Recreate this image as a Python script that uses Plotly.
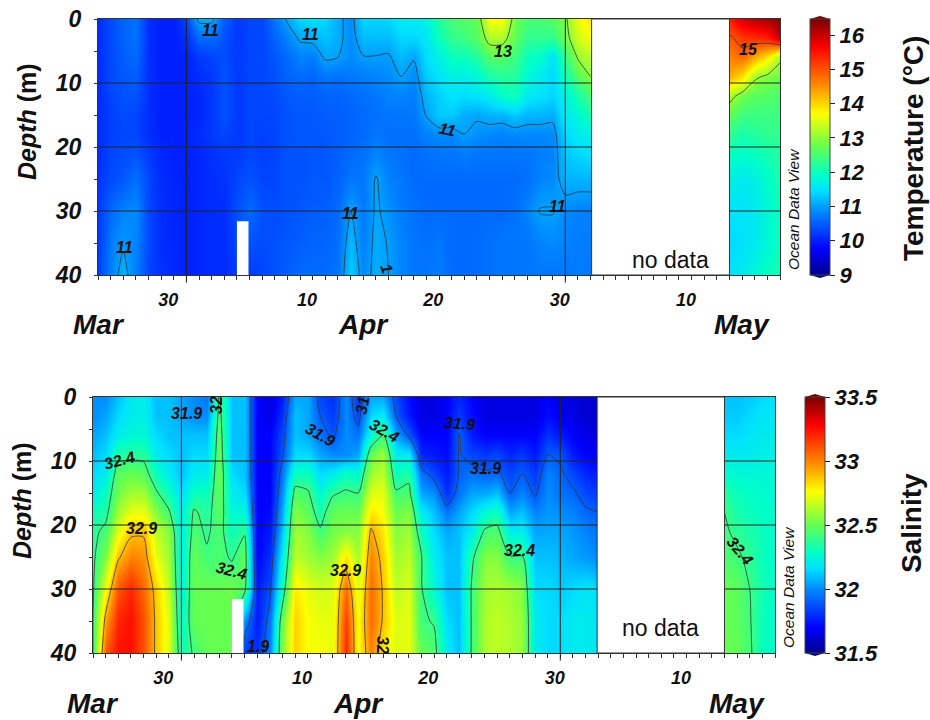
import numpy as np
import pandas as pd
import plotly.graph_objects as go

DEPTHS = [0, 3, 6, 9, 12, 15, 18, 21, 25, 30, 35, 40]

# Temperature profiles, one list per day, top to bottom
t00 = [10.1,10.1,10.1,10.1,10.1,10.1,10.1,10.1,10.15,10.2,10.2,10.25]
t01 = [10.35,10.35,10.35,10.35,10.3,10.25,10.25,10.3,10.35,10.6,10.75,10.8]
t02 = [10.55,10.55,10.5,10.45,10.4,10.35,10.3,10.35,10.45,10.8,10.95,11.15]
t03 = [10.65,10.65,10.6,10.5,10.4,10.3,10.3,10.4,10.65,10.85,10.8,10.75]
t04 = [10.1,10.1,10.1,10.1,10.1,10.1,10.1,10.2,10.3,10.3,10.3,10.3]
t05 = [10.0,10.0,10.0,10.0,10.0,10.0,10.0,10.05,10.1,10.1,10.1,10.15]
t06 = [10.0,10.0,10.0,10.0,10.0,10.0,10.0,10.0,10.05,10.05,10.05,10.05]
t07 = [10.3,10.1,10.0,10.0,10.0,10.0,10.0,10.0,10.0,10.0,10.0,10.0]
t08 = [11.1,10.6,10.2,10.1,10.05,10.05,10.1,10.05,10.05,10.05,10.05,10.05]
t09 = [11.1,10.6,10.3,10.2,10.2,10.2,10.2,10.15,10.1,10.1,10.1,10.1]
t10 = [10.5,10.4,10.35,10.4,10.4,10.4,10.3,10.2,10.15,10.1,10.1,10.1]
t11 = [10.2,10.2,10.2,10.2,10.2,10.2,10.2,10.2,10.3,10.4,10.3,10.2]
t12 = [10.3,10.3,10.3,10.3,10.3,10.3,10.3,10.3,10.4,10.6,10.4,10.2]
t13 = [10.3,10.3,10.3,10.3,10.3,10.3,10.25,10.25,10.3,10.4,10.35,10.3]
t14 = [10.7,10.55,10.45,10.4,10.35,10.3,10.3,10.3,10.3,10.35,10.4,10.4]
t15 = [11.05,10.8,10.6,10.55,10.45,10.4,10.4,10.4,10.4,10.4,10.45,10.5]
t16 = [11.4,11.05,10.8,10.6,10.5,10.45,10.45,10.4,10.4,10.45,10.5,10.6]
t17 = [11.5,11.1,10.75,10.55,10.5,10.45,10.45,10.45,10.45,10.5,10.55,10.6]
t18 = [11.4,11.25,11.05,10.7,10.55,10.5,10.45,10.45,10.45,10.5,10.55,10.6]
t19 = [11.1,11.1,11.0,10.65,10.55,10.5,10.5,10.5,10.55,10.6,10.65,10.7]
t20 = [10.85,10.85,10.85,10.7,10.6,10.55,10.55,10.6,10.7,11.02,11.2,11.35]
t21 = [11.4,11.2,10.98,10.75,10.65,10.6,10.6,10.65,10.7,10.72,10.75,10.85]
t22 = [11.35,11.2,10.98,10.8,10.7,10.65,10.7,10.8,11.03,11.05,11.1,11.1]
t23 = [11.4,11.2,10.95,10.85,10.8,10.7,10.65,10.7,10.8,10.9,10.98,11.0]
t24 = [11.6,11.4,11.2,11.0,10.8,10.7,10.65,10.65,10.7,10.75,10.8,10.8]
t25 = [11.6,11.4,11.03,10.85,10.75,10.7,10.65,10.6,10.6,10.65,10.7,10.7]
t26 = [11.7,11.55,11.45,11.3,11.15,11.02,10.8,10.65,10.6,10.6,10.65,10.7]
t27 = [12.2,12.0,11.7,11.5,11.35,11.3,10.85,10.7,10.6,10.6,10.7,10.75]
t28 = [12.5,12.3,12.0,11.7,11.5,11.3,10.85,10.7,10.6,10.6,10.6,10.6]
t29 = [12.6,12.4,12.0,11.65,11.45,11.1,11.0,10.75,10.6,10.6,10.6,10.6]
t30 = [12.7,12.6,12.2,11.8,11.5,11.05,10.9,10.7,10.6,10.6,10.6,10.6]
t31 = [13.7,13.2,12.6,12.1,11.6,11.15,10.85,10.7,10.6,10.6,10.65,10.65]
t32 = [13.7,13.2,12.6,12.2,11.9,11.15,10.8,10.7,10.6,10.6,10.7,10.7]
t33 = [12.8,12.7,12.4,12.2,12.0,11.3,10.85,10.7,10.6,10.65,10.7,10.7]
t34 = [12.5,12.3,12.0,11.8,11.6,11.15,10.85,10.7,10.65,10.8,10.7,10.7]
t35 = [12.5,12.3,11.9,11.6,11.5,11.15,10.85,10.75,10.8,11.02,10.8,10.7]
t36 = [12.6,12.3,11.5,11.4,11.4,11.1,10.85,10.8,10.85,11.02,10.85,10.7]
t37 = [12.9,12.8,12.3,12.0,11.7,11.6,11.4,11.3,11.15,10.85,10.8,10.7]
t38 = [13.6,13.4,13.05,12.6,12.1,11.8,11.6,11.4,11.15,10.78,10.75,10.75]
t39 = [13.9,13.7,13.3,13.0,12.5,12.1,11.7,11.5,11.15,10.78,10.75,10.7]
tm0 = [15.4,14.9,14.6,14.3,13.2,12.7,12.3,12.0,11.7,11.5,11.4,11.5]
tm1 = [15.9,15.2,14.8,13.9,12.8,12.4,12.1,11.9,11.6,11.5,11.5,11.6]
tm2 = [16.1,15.3,14.3,13.1,12.6,12.4,12.2,12.0,11.7,11.6,11.6,11.8]
tm3 = [16.2,15.4,13.9,12.9,12.6,12.4,12.3,12.1,11.9,11.8,11.8,12.0]
tm4 = [16.4,16.0,13.1,12.75,12.5,12.4,12.3,12.2,12.1,12.0,12.0,12.1]

# Salinity profiles
s00 = [32.0,32.0,32.05,32.1,32.15,32.2,32.3,32.36,32.37,32.38,32.4,32.4]
s01 = [32.0,32.05,32.1,32.15,32.2,32.3,32.35,32.44,32.55,32.75,32.95,33.1]
s02 = [32.1,32.15,32.2,32.35,32.48,32.52,32.6,32.7,32.88,33.1,33.2,33.25]
s03 = [32.2,32.2,32.25,32.36,32.5,32.6,32.72,32.87,33.0,33.2,33.25,33.25]
s04 = [32.2,32.22,32.25,32.36,32.47,32.6,32.72,32.88,32.97,33.05,33.1,33.1]
s05 = [32.1,32.1,32.15,32.2,32.3,32.42,32.55,32.65,32.72,32.85,32.87,32.87]
s06 = [32.1,32.1,32.1,32.15,32.2,32.3,32.42,32.55,32.6,32.65,32.7,32.7]
s07 = [32.05,32.05,32.1,32.1,32.1,32.15,32.2,32.2,32.2,32.22,32.25,32.3]
s08 = [32.0,32.0,32.1,32.15,32.2,32.3,32.42,32.45,32.5,32.5,32.5,32.42]
s09 = [31.95,32.0,32.1,32.15,32.2,32.3,32.35,32.38,32.42,32.5,32.5,32.5]
s10 = [32.42,32.45,32.48,32.5,32.52,32.5,32.48,32.45,32.45,32.5,32.5,32.5]
s11 = [32.1,32.1,32.1,32.1,32.15,32.2,32.25,32.3,32.38,32.52,32.5,32.5]
s12 = [32.1,32.1,32.1,32.1,32.1,32.15,32.25,32.38,32.5,32.45,32.0,31.8]
s13 = [31.7,31.7,31.7,31.7,31.7,31.7,31.7,31.7,31.7,31.75,31.75,31.8]
s14 = [31.65,31.65,31.7,31.7,31.7,31.7,31.72,31.75,31.8,31.87,31.95,32.0]
s15 = [31.75,31.8,31.85,31.88,31.95,32.0,32.05,32.1,32.2,32.3,32.5,32.55]
s16 = [32.05,32.1,32.1,32.15,32.3,32.45,32.55,32.6,32.65,32.8,32.85,32.85]
s17 = [32.05,32.05,32.05,32.15,32.3,32.42,32.48,32.55,32.6,32.72,32.75,32.75]
s18 = [31.85,31.9,31.95,32.05,32.15,32.25,32.33,32.42,32.55,32.68,32.72,32.75]
s19 = [31.8,31.82,31.88,32.0,32.2,32.38,32.5,32.52,32.6,32.7,32.72,32.72]
s20 = [32.0,32.0,32.0,32.0,32.3,32.42,32.5,32.55,32.8,33.05,33.15,33.2]
s21 = [31.8,31.85,31.95,32.05,32.25,32.4,32.5,32.55,32.6,32.7,32.75,32.75]
s22 = [32.05,32.15,32.25,32.5,32.6,32.7,32.8,32.92,33.0,33.05,33.05,33.0]
s23 = [32.05,32.2,32.42,32.6,32.65,32.72,32.75,32.8,32.85,32.88,32.88,32.8]
s24 = [31.85,31.9,32.05,32.2,32.3,32.42,32.5,32.55,32.6,32.65,32.7,32.7]
s25 = [31.72,31.75,31.88,32.2,32.35,32.45,32.55,32.6,32.65,32.7,32.72,32.72]
s26 = [31.65,31.65,31.7,31.78,31.95,32.05,32.2,32.3,32.41,32.41,32.42,32.5]
s27 = [31.65,31.65,31.7,31.75,31.85,32.0,32.1,32.15,32.2,32.25,32.39,32.45]
s28 = [31.7,31.7,31.7,31.72,31.75,31.8,31.95,32.05,32.1,32.1,32.15,32.2]
s29 = [31.78,31.82,31.91,31.91,31.91,31.95,32.05,32.1,32.1,32.1,32.1,32.1]
s30 = [31.7,31.72,31.75,31.85,31.95,32.05,32.15,32.2,32.37,32.42,32.42,32.42]
s31 = [31.65,31.65,31.7,31.82,31.92,32.05,32.25,32.42,32.55,32.6,32.62,32.62]
s32 = [31.65,31.65,31.7,31.85,31.92,32.1,32.3,32.45,32.55,32.62,32.65,32.65]
s33 = [31.65,31.65,31.7,31.78,31.85,31.9,32.05,32.2,32.41,32.6,32.62,32.62]
s34 = [31.65,31.65,31.7,31.82,31.9,31.98,32.1,32.2,32.41,32.55,32.58,32.58]
s35 = [31.65,31.65,31.7,31.75,31.82,31.88,31.98,32.05,32.1,32.15,32.2,32.2]
s36 = [31.7,31.72,31.8,31.9,31.98,32.0,32.02,32.05,32.1,32.15,32.15,32.15]
s37 = [31.65,31.68,31.75,31.88,31.92,31.95,32.0,32.05,32.08,32.12,32.15,32.15]
s38 = [31.65,31.65,31.7,31.75,31.85,31.92,31.98,32.02,32.05,32.15,32.2,32.2]
s39 = [31.62,31.62,31.65,31.7,31.78,31.85,31.92,31.98,32.02,32.18,32.2,32.2]
s40 = [31.62,31.62,31.65,31.7,31.75,31.82,31.9,31.95,32.0,32.15,32.18,32.18]
sm0 = [32.1,32.12,32.15,32.2,32.28,32.35,32.4,32.42,32.45,32.5,32.5,32.5]
sm1 = [32.1,32.12,32.15,32.2,32.25,32.3,32.33,32.37,32.42,32.48,32.48,32.5]
sm2 = [32.12,32.15,32.18,32.2,32.25,32.28,32.3,32.33,32.37,32.4,32.41,32.42]
sm3 = [32.15,32.18,32.2,32.22,32.25,32.27,32.28,32.3,32.3,32.32,32.3,32.3]
sm4 = [32.15,32.18,32.2,32.22,32.25,32.25,32.27,32.27,32.27,32.27,32.27,32.27]

temp_spring = [t00,t01,t02,t03,t04,t05,t06,t07,t08,t09,t10,t11,t12,t13,t14,t15,t16,t17,t18,t19,
               t20,t21,t22,t23,t24,t25,t26,t27,t28,t29,t30,t31,t32,t33,t34,t35,t36,t37,t38,t39]
temp_may = [tm0,tm1,tm2,tm3,tm4]
sal_spring = [s00,s01,s02,s03,s04,s05,s06,s07,s08,s09,s10,s11,s12,s13,s14,s15,s16,s17,s18,s19,s20,
              s21,s22,s23,s24,s25,s26,s27,s28,s29,s30,s31,s32,s33,s34,s35,s36,s37,s38,s39,s40]
sal_may = [sm0,sm1,sm2,sm3,sm4]

temp_days = pd.date_range("2014-03-25", periods=len(temp_spring), freq="D")
sal_days = pd.date_range("2014-03-25", periods=len(sal_spring), freq="D")
may_days = pd.date_range("2014-05-14", periods=5, freq="D")

DAY_TICKS = ["2014-03-30", "2014-04-10", "2014-04-20", "2014-04-30", "2014-05-10"]
DAY_LABELS = ["30", "10", "20", "30", "10"]
MONTH_STARTS = ["2014-04-01", "2014-05-01"]
GRID_DEPTHS = [10, 20, 30]
TEMP_TICKS = [9, 10, 11, 12, 13, 14, 15, 16]
SAL_TICKS = [31.5, 32, 32.5, 33, 33.5]
SAL_TICKTEXT = ["31.5", "32", "32.5", "33", "33.5"]

ODV = [[0, "rgb(0,0,140)"], [0.1, "rgb(0,0,255)"], [0.24, "rgb(0,130,255)"], [0.33, "rgb(0,225,255)"],
       [0.39, "rgb(0,255,200)"], [0.5, "rgb(100,255,80)"], [0.63, "rgb(255,255,0)"],
       [0.75, "rgb(255,130,0)"], [0.89, "rgb(255,0,0)"], [1, "rgb(120,0,0)"]]

FONT = "Liberation Sans"
W, H = 930, 720
def fx(p): return p / W
def fy(p): return 1 - p / H

fig = go.Figure()
PANELS = [
    dict(x="x", y="y", left=98, right=780, top=19, bottom=275, zmin=9, zmax=16.47, spring=temp_spring,
         days=temp_days, may=temp_may, start=11, end=15, size=2, ticks=TEMP_TICKS, ticktext=[str(v) for v in TEMP_TICKS],
         barx=810, gap0="2014-05-03 02:00", gap1="2014-05-14"),
    dict(x="x2", y="y2", left=93, right=775, top=397, bottom=653, zmin=31.5, zmax=33.5, spring=sal_spring,
         days=sal_days, may=sal_may, start=31.9, end=32.9, size=0.5, ticks=SAL_TICKS, ticktext=SAL_TICKTEXT,
         barx=805, gap0="2014-05-03 22:00", gap1="2014-05-14"),
]

for i, p in enumerate(PANELS):
    cb = dict(x=fx(p["barx"]), xanchor="left", xpad=0, y=fy(p["bottom"]), yanchor="bottom", ypad=0,
              lenmode="pixels", len=p["bottom"] - p["top"], thickness=20, outlinewidth=1, outlinecolor="#444",
              tickmode="array", tickvals=p["ticks"], ticktext=p["ticktext"], ticks="outside", ticklen=5,
              tickcolor="#222", tickfont=dict(family=FONT, size=22, color="#111", weight="bold", style="italic"))
    for j, (cols, days) in enumerate([(p["spring"], p["days"]), (p["may"], may_days)]):
        z = np.array(cols).T
        hm = dict(x=days, y=DEPTHS, z=z, xaxis=p["x"], yaxis=p["y"], colorscale=ODV, zmin=p["zmin"], zmax=p["zmax"],
                  zsmooth="best", hoverinfo="skip", showscale=(j == 0))
        if j == 0:
            hm["colorbar"] = cb
        fig.add_trace(go.Heatmap(**hm))
        fig.add_trace(go.Contour(x=days, y=DEPTHS, z=z, xaxis=p["x"], yaxis=p["y"], showscale=False,
                                 contours=dict(coloring="none", start=p["start"], end=p["end"], size=p["size"]),
                                 line=dict(color="#333", width=0.8, smoothing=0.7), hoverinfo="skip"))
    fig.add_shape(type="rect", xref=p["x"], yref=p["y"], x0=p["gap0"], x1=p["gap1"], y0=40, y1=0,
                  fillcolor="white", line=dict(color="#333", width=1))
    fig.add_shape(type="rect", xref=p["x"], yref=p["y"], x0="2014-04-05", x1="2014-04-05 22:00", y0=40, y1=31.6,
                  fillcolor="white", line=dict(width=0))
    for d in GRID_DEPTHS:
        for a, b in [("2014-03-25", p["gap0"]), (p["gap1"], "2014-05-18")]:
            fig.add_shape(type="line", xref=p["x"], yref=p["y"], x0=a, x1=b, y0=d, y1=d,
                          line=dict(color="#222", width=1))
    for m in MONTH_STARTS:
        fig.add_shape(type="line", xref=p["x"], yref=p["y"] + " domain", x0=m, x1=m, y0=-0.03, y1=1,
                      line=dict(color="#222", width=1))
    bx = p["barx"]
    fig.add_shape(type="path", xref="paper", yref="paper",
                  path=f"M {fx(bx)} {fy(p['top'])} L {fx(bx+10)} {fy(p['top']-3)} L {fx(bx+20)} {fy(p['top'])} Z",
                  fillcolor="rgb(120,0,0)", line=dict(width=0))
    fig.add_shape(type="path", xref="paper", yref="paper",
                  path=f"M {fx(bx)} {fy(p['bottom'])} L {fx(bx+10)} {fy(p['bottom']+3)} L {fx(bx+20)} {fy(p['bottom'])} Z",
                  fillcolor="rgb(0,0,140)", line=dict(width=0))

def xaxis_cfg(p):
    return dict(type="date", domain=[fx(p["left"]), fx(p["right"])], range=["2014-03-25", "2014-05-18"],
                anchor=p["y"], tickmode="array", tickvals=DAY_TICKS, ticktext=DAY_LABELS, ticks="outside", ticklen=4,
                tickcolor="#333", ticklabelshift=7, ticklabelstandoff=4,
                tickfont=dict(family=FONT, size=18, color="#111", weight="bold", style="italic"),
                minor=dict(ticks="outside", ticklen=4, dtick=86400000, tick0="2014-03-25", tickcolor="#333", showgrid=False),
                showgrid=False, showline=True, mirror=True, linecolor="#333", linewidth=1, zeroline=False)

def yaxis_cfg(p):
    return dict(domain=[fy(p["bottom"]), fy(p["top"])], range=[40, 0], anchor=p["x"], tickmode="array",
                tickvals=[0, 10, 20, 30, 40], ticks="outside", ticklen=3, tickcolor="#333", ticklabelstandoff=8,
                tickfont=dict(family=FONT, size=23, color="#111", weight="bold", style="italic"),
                minor=dict(ticks="outside", ticklen=3, dtick=5, tickcolor="#333", showgrid=False),
                showgrid=False, showline=True, mirror=True, linecolor="#333", linewidth=1, zeroline=False)

fig.update_layout(
    width=W, height=H, margin=dict(l=0, r=0, t=0, b=0, autoexpand=False), paper_bgcolor="white", plot_bgcolor="white",
    showlegend=False,
    xaxis=xaxis_cfg(PANELS[0]), yaxis=yaxis_cfg(PANELS[0]),
    xaxis2=xaxis_cfg(PANELS[1]), yaxis2=yaxis_cfg(PANELS[1]),
)

def note(px, py, text, size=16, angle=0, bold=True, italic=True, color="#111"):
    fig.add_annotation(xref="paper", yref="paper", x=fx(px), y=fy(py), text=text, showarrow=False, textangle=angle,
                       xanchor="center", yanchor="middle",
                       font=dict(family=FONT, size=size, color=color, weight="bold" if bold else "normal",
                                 style="italic" if italic else "normal"))

CONTOUR_LABELS = [
    (210,31,"11",0),(310,34,"11",0),(503,52,"13",0),(447,129,"11",12),(350,213,"11",0),(125,247,"11",0),
    (387,268,"1",70),(557,207,"11",0),(748,50,"15",0),
    (119,461,"32.4",-15),(141,528,"32.9",0),(186,414,"31.9",0),(216,405,"32",-90),(231,570,"32.4",15),
    (258,646,"1.9",0),(320,434,"31.9",30),(362,405,"31",-80),(384,430,"32.4",30),(459,423,"31.9",5),
    (485,468,"31.9",0),(345,570,"32.9",0),(383,645,"32",90),(519,550,"32.4",0),(740,550,"32.4",50),
]
for px, py, text, angle in CONTOUR_LABELS:
    note(px, py, text, angle=angle)

for px, py, text in [(99,325,"Mar"),(363,325,"Apr"),(742,325,"May"),(93,703,"Mar"),(358,703,"Apr"),(737,703,"May")]:
    note(px, py, text, size=28)
note(27, 122, "<i>Depth</i> (m)", size=25, angle=-90, italic=False)
note(22, 501, "<i>Depth</i> (m)", size=25, angle=-90, italic=False)
note(670, 260, "no data", size=23, bold=False, italic=False)
note(660, 628, "no data", size=23, bold=False, italic=False)
note(793, 209, "Ocean Data View", size=15.5, angle=-90, bold=False)
note(788, 587, "Ocean Data View", size=15.5, angle=-90, bold=False)
note(914, 149, "Temperature (°C)", size=28, angle=-90, italic=False)
note(911, 523, "Salinity", size=28, angle=-90, italic=False)

fig.write_html("out.html", config={"displayModeBar": False}, post_script="document.body.style.margin='0';")
